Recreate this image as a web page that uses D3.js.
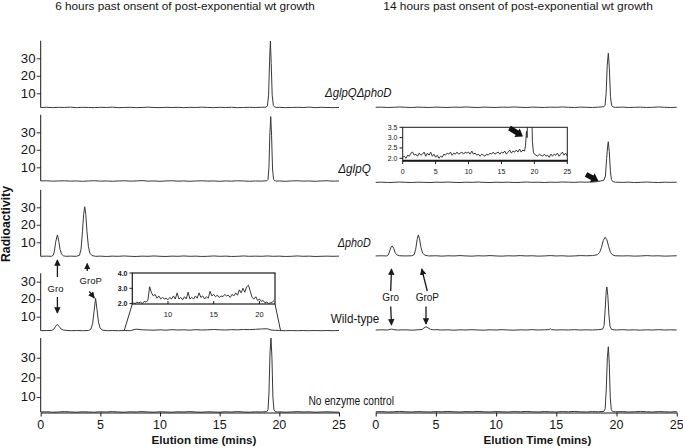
<!DOCTYPE html>
<html><head><meta charset="utf-8">
<script src="https://cdn.jsdelivr.net/npm/d3@7"></script>
<style>
body{margin:0;background:#fff}
svg{display:block}
text{font-family:"Liberation Sans",Arial,Helvetica,sans-serif;fill:#151515}
</style>
</head><body>
<svg id="c" width="683" height="448"></svg>
<script>
// ---------------- data ----------------
const xTicks = [0, 5, 10, 15, 20, 25];
const yTicks = [10, 20, 30];
const strains = ["ΔglpQΔphoD", "ΔglpQ", "ΔphoD", "Wild-type", "No enzyme control"];
const titles = ["6 hours past onsent of post-exponential wt growth", "14 hours past onsent of post-exponential wt growth"];
const xTitles = ["Elution time (mins)", "Elution Time (mins)"];
const yTitle = "Radioactivity";
const insetWTTicksX = [10, 15, 20];
const insetWTTicksY = [2.0, 3.0, 4.0];
const insetGlpQTicksX = [0, 5, 10, 15, 20, 25];
const insetGlpQTicksY = [2.0, 2.5, 3.0, 3.5];

// 6 h traces [time (min), radioactivity]
const L1 = [[0,1.9],[0.5,2.0],[1,1.8],[1.5,2.0],[2,1.9],[2.5,2.1],[3,1.8],[3.5,2.0],[4,1.9],[4.5,1.8],[5,2.0],[5.5,1.9],[6,2.1],[6.5,1.8],[7,1.9],[7.5,2.0],[8,1.8],[8.5,1.9],[9,2.1],[9.5,1.9],[10,1.8],[10.5,2.0],[11,1.9],[11.5,2.0],[12,1.8],[12.5,2.0],[13,1.9],[13.5,2.1],[14,1.9],[14.5,1.8],[15,2.0],[15.5,1.9],[16,2.0],[16.5,1.8],[17,1.9],[17.5,2.0],[18,1.9],[18.5,2.0],[18.9,2.1],[19.0,2.8],[19.1,9],[19.18,28],[19.25,39.8],[19.32,27],[19.4,9],[19.5,3],[19.6,2.2],[19.8,1.9],[20,2.0],[20.5,1.8],[21,1.9],[21.5,2.0],[22,1.9],[22.5,2.1],[23,1.8],[23.5,2.0],[24,1.9],[24.5,1.8],[25,1.9]];
const L2 = [[0,2.2],[0.5,2.3],[1,2.1],[1.5,2.2],[2,2.3],[2.5,2.1],[3,2.2],[3.5,2.0],[4,2.2],[4.5,2.3],[5,2.1],[5.5,2.2],[6,2.0],[6.5,2.2],[7,2.3],[7.5,2.1],[8,2.2],[8.5,2.4],[9,2.1],[9.5,2.2],[10,2.0],[10.5,2.2],[11,2.3],[11.5,2.1],[12,2.2],[12.5,2.0],[13,2.2],[13.5,2.3],[14,2.1],[14.5,2.2],[15,2.0],[15.5,2.2],[16,2.1],[16.5,2.3],[17,2.2],[17.5,2.0],[18,2.2],[18.5,2.1],[18.95,2.3],[19.05,3],[19.13,10],[19.21,30],[19.28,39],[19.35,28],[19.43,9],[19.52,3],[19.62,2.3],[19.8,2.1],[20,2.2],[20.5,2.0],[21,2.2],[21.5,2.3],[22,2.1],[22.5,2.2],[23,2.0],[23.5,2.2],[24,2.3],[24.5,2.1],[25,2.2]];
const L3 = [[0,2.0],[0.5,2.1],[0.9,2.0],[1.05,2.6],[1.15,5],[1.25,10],[1.4,14.2],[1.52,10.5],[1.62,6],[1.75,3.2],[1.9,2.3],[2.1,2.0],[2.5,2.1],[3.0,2.0],[3.25,2.6],[3.38,6],[3.5,16],[3.6,26],[3.69,30.3],[3.78,26],[3.88,16],[4.0,7.5],[4.12,3.8],[4.3,2.4],[4.6,2.0],[5,2.1],[5.5,1.9],[6,2.1],[6.5,2.0],[7,2.2],[7.5,2.0],[8,1.9],[8.5,2.1],[9,2.0],[9.5,2.2],[10,2.0],[10.5,1.9],[11,2.1],[11.5,2.0],[12,2.2],[12.5,2.0],[13,2.1],[13.5,1.9],[14,2.0],[14.5,2.2],[15,2.0],[15.5,2.1],[16,1.9],[16.5,2.0],[17,2.2],[17.5,2.0],[18,2.1],[18.5,2.0],[19,2.2],[19.5,2.0],[20,2.1],[20.5,1.9],[21,2.0],[21.5,2.2],[22,2.0],[22.5,2.1],[23,1.9],[23.5,2.0],[24,2.1],[24.5,2.0],[25,2.1]];
const L4 = [[0,2.0],[0.5,2.1],[0.9,2.1],[1.1,2.8],[1.25,4.5],[1.4,5.6],[1.55,4.4],[1.7,3.0],[1.9,2.4],[2.2,2.1],[2.6,2.0],[3,2.1],[3.5,2.0],[4.0,2.1],[4.2,2.8],[4.35,6],[4.47,13],[4.6,20.5],[4.72,14],[4.84,7],[4.98,3.4],[5.2,2.3],[5.6,2.0],[6,2.1],[6.5,2.0],[7,2.1],[7.5,2.0],[8,2.9],[8.5,2.5],[9,2.4],[9.5,2.3],[10,2.5],[10.5,2.3],[11,2.6],[11.5,2.4],[12,2.5],[12.5,2.3],[13,2.6],[13.5,2.4],[14,2.5],[14.5,2.7],[15,2.5],[15.5,2.4],[16,2.6],[16.5,2.5],[17,2.7],[17.5,2.6],[18,2.8],[18.5,3.0],[19,3.1],[19.3,2.4],[19.7,2.2],[20,2.1],[20.5,2.0],[21,2.1],[21.5,2.0],[22,2.1],[22.5,2.0],[23,2.1],[23.5,2.0],[24,2.1],[24.5,2.0],[25,2.1]];
const L5 = [[0,2.4],[0.5,2.5],[1,2.3],[1.5,2.4],[2,2.6],[2.5,2.4],[3,2.3],[3.5,2.5],[4,2.4],[4.5,2.3],[5,2.5],[5.5,2.4],[6,2.6],[6.5,2.4],[7,2.3],[7.5,2.5],[8,2.4],[8.5,2.6],[9,2.4],[9.5,2.3],[10,2.5],[10.5,2.4],[11,2.3],[11.5,2.5],[12,2.4],[12.5,2.6],[13,2.4],[13.5,2.3],[14,2.5],[14.5,2.4],[15,2.3],[15.5,2.5],[16,2.4],[16.5,2.6],[17,2.4],[17.5,2.3],[18,2.5],[18.5,2.4],[18.95,2.6],[19.05,3.5],[19.13,12],[19.22,33],[19.3,40],[19.38,30],[19.46,10],[19.55,3.5],[19.65,2.6],[19.85,2.4],[20,2.5],[20.5,2.3],[21,2.4],[21.5,2.6],[22,2.4],[22.5,2.5],[23,2.3],[23.5,2.4],[24,2.5],[24.5,2.4],[25,2.3]];

// 14 h traces
const R1 = [[0,2.0],[0.5,2.1],[1,1.9],[1.5,2.0],[2,2.2],[2.5,2.0],[3,1.9],[3.5,2.1],[4,2.0],[4.5,1.9],[5,2.1],[5.5,2.0],[6,1.9],[6.5,2.1],[7,2.0],[7.5,2.2],[8,2.0],[8.5,1.9],[9,2.1],[9.5,2.0],[10,1.9],[10.5,2.1],[11,2.0],[11.5,2.2],[12,2.0],[12.5,1.9],[13,2.1],[13.5,2.0],[14,1.9],[14.5,2.1],[15,2.0],[15.5,2.2],[16,2.0],[16.5,1.9],[17,2.1],[17.5,2.0],[18,1.9],[18.5,2.1],[18.95,2.3],[19.05,3.2],[19.14,10],[19.23,26],[19.32,32.9],[19.41,24],[19.5,8],[19.6,3],[19.72,2.2],[19.9,2.0],[20.5,2.1],[21,1.9],[21.5,2.0],[22,2.1],[22.5,1.9],[23,2.0],[23.5,2.2],[24,2.0],[24.5,1.9],[25,2.0]];
const R2 = [[0,1.4],[0.5,1.5],[1,1.3],[1.5,1.4],[2,1.6],[2.5,1.4],[3,1.3],[3.5,1.5],[4,1.4],[4.5,1.3],[5,1.5],[5.5,1.4],[6,1.6],[6.5,1.4],[7,1.3],[7.5,1.5],[8,1.4],[8.5,1.6],[9,1.4],[9.5,1.3],[10,1.5],[10.5,1.4],[11,1.5],[11.5,1.3],[12,1.4],[12.5,1.6],[13,1.4],[13.5,1.5],[14,1.3],[14.5,1.5],[15,1.4],[15.5,1.6],[16,1.5],[16.5,1.4],[17,1.6],[17.5,1.5],[18,1.6],[18.4,1.8],[18.7,2.2],[18.95,2.6],[19.08,5],[19.18,15],[19.26,22],[19.32,24.6],[19.4,19],[19.49,8],[19.58,3],[19.7,1.8],[19.9,1.5],[20.5,1.4],[21,1.5],[21.5,1.3],[22,1.4],[22.5,1.6],[23,1.4],[23.5,1.3],[24,1.5],[24.5,1.4],[25,1.5]];
const R3 = [[0,2.2],[0.5,2.3],[0.9,2.2],[1.05,2.8],[1.18,5.5],[1.3,7.6],[1.38,7.9],[1.5,6.5],[1.62,4],[1.78,2.7],[2.0,2.3],[2.5,2.2],[3.0,2.3],[3.2,3.0],[3.32,6],[3.44,11.5],[3.54,14.2],[3.64,12],[3.76,7],[3.9,3.8],[4.1,2.6],[4.4,2.2],[5,2.3],[5.5,2.1],[6,2.3],[6.5,2.2],[7,2.4],[7.5,2.2],[8,2.1],[8.5,2.3],[9,2.2],[9.5,2.4],[10,2.2],[10.5,2.1],[11,2.3],[11.5,2.2],[12,2.4],[12.5,2.2],[13,2.3],[13.5,2.1],[14,2.2],[14.5,2.4],[15,2.2],[15.5,2.3],[16,2.1],[16.5,2.2],[17,2.4],[17.5,2.3],[18,2.4],[18.4,2.9],[18.6,4.2],[18.75,7],[18.9,11],[19.05,12.9],[19.2,11.5],[19.35,7.5],[19.5,4.2],[19.68,2.8],[19.9,2.3],[20.5,2.2],[21,2.3],[21.5,2.1],[22,2.2],[22.5,2.4],[23,2.2],[23.5,2.3],[24,2.1],[24.5,2.2],[25,2.3]];
const R4 = [[0,2.4],[0.5,2.5],[1,2.4],[1.2,2.8],[1.33,2.9],[1.5,2.6],[1.8,2.4],[2.5,2.5],[3,2.3],[3.5,2.5],[3.85,2.7],[4.0,3.5],[4.18,4.3],[4.35,3.6],[4.55,2.8],[4.8,2.5],[5,2.6],[5.5,2.4],[6,2.5],[6.5,2.3],[7,2.5],[7.5,2.4],[8,2.6],[8.5,2.4],[9,2.3],[9.5,2.5],[10,2.4],[10.5,2.6],[11,2.4],[11.5,2.3],[12,2.5],[12.5,2.4],[13,2.6],[13.5,2.4],[14,2.5],[14.4,2.6],[14.5,3.2],[14.6,2.6],[15,2.4],[15.5,2.5],[16,2.4],[16.5,2.6],[17,2.4],[17.5,2.5],[18,2.4],[18.5,2.6],[18.85,2.9],[18.97,5],[19.06,14],[19.14,24],[19.2,27],[19.28,22],[19.37,11],[19.46,4.5],[19.58,2.8],[19.8,2.5],[20,2.4],[20.5,2.6],[21,2.4],[21.5,2.5],[22,2.3],[22.5,2.5],[23,2.4],[23.5,2.6],[24,2.4],[24.5,2.5],[25,2.4]];
const R5 = [[0,2.5],[0.5,2.6],[1,2.4],[1.5,2.5],[2,2.7],[2.5,2.5],[3,2.4],[3.5,2.6],[4,2.5],[4.5,2.4],[5,2.6],[5.5,2.5],[6,2.7],[6.5,2.5],[7,2.4],[7.5,2.6],[8,2.5],[8.5,2.7],[9,2.5],[9.5,2.4],[10,2.6],[10.5,2.5],[11,2.4],[11.5,2.6],[12,2.5],[12.5,2.7],[13,2.5],[13.5,2.4],[14,2.6],[14.5,2.5],[15,2.4],[15.5,2.6],[16,2.5],[16.5,2.7],[17,2.5],[17.5,2.4],[18,2.6],[18.5,2.5],[18.95,2.7],[19.06,4],[19.15,14],[19.24,30],[19.32,35.6],[19.4,27],[19.48,10],[19.57,3.5],[19.68,2.6],[19.9,2.5],[20.5,2.6],[21,2.4],[21.5,2.5],[22,2.7],[22.5,2.5],[23,2.4],[23.5,2.6],[24,2.5],[24.5,2.4],[25,2.6]];

// insets
const insetWT = [[6.2,2.05],[6.4,2.0],[6.6,2.1],[6.8,2.05],[7.0,2.1],[7.2,2.0],[7.4,2.15],[7.6,2.1],[7.8,2.2],[8.0,3.1],[8.2,2.7],[8.4,2.5],[8.6,2.6],[8.8,2.35],[9.0,2.5],[9.2,2.3],[9.4,2.4],[9.6,2.3],[9.8,2.35],[10.0,2.25],[10.2,2.4],[10.4,2.3],[10.6,2.5],[10.8,2.3],[11.0,2.7],[11.2,2.3],[11.4,2.4],[11.6,2.25],[11.8,2.45],[12.0,2.3],[12.2,2.75],[12.4,2.3],[12.6,2.4],[12.8,2.3],[13.0,2.5],[13.2,2.35],[13.4,2.7],[13.6,2.4],[13.8,2.5],[14.0,2.3],[14.2,2.45],[14.4,2.35],[14.6,2.8],[14.8,2.5],[15.0,2.6],[15.2,2.45],[15.4,2.55],[15.6,2.4],[15.8,2.5],[16.0,2.45],[16.2,2.6],[16.4,2.5],[16.6,2.55],[16.8,2.4],[17.0,2.6],[17.2,2.5],[17.4,2.7],[17.6,2.55],[17.8,2.9],[18.0,2.7],[18.2,3.0],[18.4,2.75],[18.6,3.1],[18.8,3.2],[19.0,2.8],[19.2,2.4],[19.4,2.3],[19.6,2.45],[19.8,2.2],[20.0,2.3],[20.2,2.15],[20.4,2.2],[20.6,2.05],[20.8,2.1],[21.0,2.0],[21.2,2.05],[21.4,2.1],[21.6,2.2]];
const insetGlpQ = [[0,2.05],[0.25,2.1],[0.5,2.0],[0.75,2.15],[1.0,2.1],[1.25,2.25],[1.5,2.3],[1.75,2.15],[2.0,2.2],[2.25,2.1],[2.5,2.25],[2.75,2.15],[3.0,2.2],[3.25,2.3],[3.5,2.1],[3.75,2.25],[4.0,2.15],[4.25,2.3],[4.5,2.1],[4.75,2.2],[5.0,2.05],[5.25,2.15],[5.5,2.0],[5.75,2.1],[6.0,2.05],[6.25,2.2],[6.5,2.15],[6.75,2.25],[7.0,2.2],[7.25,2.3],[7.5,2.15],[7.75,2.25],[8.0,2.2],[8.25,2.3],[8.5,2.2],[8.75,2.25],[9.0,2.3],[9.25,2.2],[9.5,2.3],[9.75,2.25],[10.0,2.3],[10.25,2.2],[10.5,2.35],[10.75,2.2],[11.0,2.25],[11.25,2.15],[11.5,2.2],[11.75,2.1],[12.0,2.2],[12.25,2.15],[12.5,2.1],[12.75,2.2],[13.0,2.15],[13.25,2.25],[13.5,2.2],[13.75,2.3],[14.0,2.2],[14.25,2.25],[14.5,2.3],[14.75,2.2],[15.0,2.3],[15.25,2.25],[15.5,2.35],[15.75,2.2],[16.0,2.3],[16.25,2.4],[16.5,2.25],[16.75,2.35],[17.0,2.3],[17.25,2.4],[17.5,2.3],[17.75,2.45],[18.0,2.3],[18.25,2.4],[18.5,2.35],[18.65,2.6],[18.8,3.3],[18.9,3.0],[19.0,4.5],[19.6,4.5],[19.7,2.8],[19.85,2.3],[20.0,2.2],[20.25,2.15],[20.5,2.1],[20.75,2.2],[21.0,2.15],[21.25,2.1],[21.5,2.2],[21.75,2.1],[22.0,2.15],[22.25,2.05],[22.5,2.2],[22.75,2.1],[23.0,2.2],[23.25,2.15],[23.5,2.25],[23.75,2.1],[24.0,2.2],[24.25,2.3],[24.5,2.15],[24.75,2.25],[25.0,2.1]];

// ---------------- drawing ----------------
const svg = d3.select("#c");
const ink = "#1a1a1a", lineCol = "#383838";
const xL = d3.scaleLinear().domain([0, 25]).range([40.7, 339]);
const xR = d3.scaleLinear().domain([0, 25]).range([375.7, 676.7]);
const panelY = [
  d3.scaleLinear().domain([0, 40]).range([110.8, 40.8]),
  d3.scaleLinear().domain([0, 40]).range([184.8, 114.8]),
  d3.scaleLinear().domain([0, 40]).range([259.8, 189.8]),
  d3.scaleLinear().domain([0, 40]).range([334.2, 264.2]),
  d3.scaleLinear().domain([0, 40]).range([416.7, 338.1])
];
const axisSpan = [[1.8, 40], [2.2, 40], [2.0, 40], [2.0, 34.8], [2.4, 40]];
const leftTraces = [L1, L2, L3, L4, L5];
const rightTraces = [R1, R2, R3, R4, R5];

function txt(g, x, y, s, o) {
  o = o || {};
  const t = g.append("text")
    .attr("x", 0).attr("y", 0)
    .attr("text-anchor", o.anchor || "middle")
    .style("font-size", (o.size || 11) + "px")
    .style("font-weight", o.weight || "normal")
    .style("font-style", o.style || "normal")
    .text(s);
  let sx = o.sx || 1;
  if (o.width) { const w = t.node().getComputedTextLength(); sx = o.width / w; }
  t.attr("transform", `translate(${x},${y})` + (o.rotate ? ` rotate(${o.rotate})` : "") + ` scale(${sx},1)`);
  return t;
}

// titles
txt(svg, 185, 10, titles[0], { size: 10.5, width: 260 });
txt(svg, 518, 10, titles[1], { size: 10.5, width: 270 });

const line = (xs, ys) => d3.line().x(d => xs(d[0])).y(d => ys(d[1]));

// left panels with y axes
panelY.forEach((ys, i) => {
  const g = svg.append("g");
  const ax = d3.axisLeft(ys).tickValues(yTicks).tickSize(4).tickFormat(d3.format("d"));
  const ag = g.append("g").attr("transform", "translate(40.7,0)").call(ax);
  ag.select(".domain").remove();
  ag.selectAll(".tick line").attr("stroke", ink).attr("stroke-width", 0.9);
  ag.selectAll(".tick text").remove();
  yTicks.forEach(v => txt(g, 35.5, ys(v) + 4.2, String(v), { size: 12, anchor: "end", sx: 1.1 }));
  g.append("line").attr("x1", 40.7).attr("x2", 40.7)
    .attr("y1", ys(axisSpan[i][0])).attr("y2", ys(axisSpan[i][1]))
    .attr("stroke", ink).attr("stroke-width", 1);
  g.append("path").datum(leftTraces[i]).attr("d", line(xL, ys))
    .attr("fill", "none").attr("stroke", lineCol).attr("stroke-width", 1);
  g.append("path").datum(rightTraces[i]).attr("d", line(xR, ys))
    .attr("fill", "none").attr("stroke", lineCol).attr("stroke-width", 1);
});

// strain labels
const labelPos = [[358.3, 96.5, 66.7], [354.5, 173, 32.4], [354.2, 247, 33], [355, 322.5, 48.6], [351.2, 404.5, 85.7]];
strains.forEach((s, i) => {
  txt(svg, labelPos[i][0], labelPos[i][1], s, { size: 12, style: i < 3 ? "italic" : "normal", width: labelPos[i][2] });
});

// x axes
[[xL, 0, 204, 105], [xR, 1, 537.5, 108]].forEach(([xs, k, cx, w]) => {
  const ag = svg.append("g").attr("transform", "translate(0,412.5)")
    .call(d3.axisBottom(xs).tickValues(xTicks).tickSize(4).tickSizeOuter(0));
  ag.select(".domain").attr("stroke", ink).attr("stroke-width", 1);
  ag.selectAll(".tick line").attr("stroke", ink).attr("stroke-width", 1);
  ag.selectAll(".tick text").remove();
  xTicks.forEach(v => txt(svg, xs(v), 428.5, String(v), { size: 12.5 }));
  txt(svg, cx, 444, xTitles[k], { size: 11.5, weight: "bold", width: w });
});

// y title
txt(svg, 10, 224, yTitle, { size: 12.5, weight: "bold", rotate: -90, width: 76 });

// ---------- inset (WT, 6 h) ----------
{
  const ix = d3.scaleLinear().domain([6.1, 21.7]).range([132.3, 275]);
  const iy = d3.scaleLinear().domain([2.0, 4.0]).range([303.6, 273]);
  const g = svg.append("g");
  g.append("line").attr("x1", 132.3).attr("y1", 304).attr("x2", xL(7.0)).attr("y2", 330.5).attr("stroke", ink).attr("stroke-width", 0.9);
  g.append("line").attr("x1", 275).attr("y1", 304).attr("x2", xL(20.1)).attr("y2", 330.5).attr("stroke", ink).attr("stroke-width", 0.9);
  g.append("rect").attr("x", 132.3).attr("y", 273).attr("width", 275 - 132.3).attr("height", 304 - 273)
    .attr("fill", "#fff").attr("stroke", ink).attr("stroke-width", 1.2);
  g.append("path").datum(insetWT).attr("d", line(ix, iy)).attr("fill", "none").attr("stroke", "#222").attr("stroke-width", 0.9);
  insetWTTicksX.forEach(v => {
    g.append("line").attr("x1", ix(v)).attr("x2", ix(v)).attr("y1", 304).attr("y2", 301).attr("stroke", ink);
    txt(g, ix(v), 316.5, String(v), { size: 7.5 });
  });
  insetWTTicksY.forEach(v => {
    g.append("line").attr("x1", 132.3).attr("x2", 129.5).attr("y1", iy(v)).attr("y2", iy(v)).attr("stroke", ink);
    txt(g, 127.5, iy(v) + 2.5, d3.format(".1f")(v), { size: 7, anchor: "end", weight: "bold" });
  });
}

// ---------- inset (ΔglpQ, 14 h) ----------
{
  const ix = d3.scaleLinear().domain([0, 25]).range([402.7, 567.3]);
  const iy = d3.scaleLinear().domain([2.0, 3.5]).range([158.3, 127.3]);
  const g = svg.append("g");
  svg.append("defs").append("clipPath").attr("id", "clipG")
    .append("rect").attr("x", 402.7).attr("y", 127.3).attr("width", 567.3 - 402.7).attr("height", 160.7 - 127.3);
  g.append("rect").attr("x", 402.7).attr("y", 127.3).attr("width", 567.3 - 402.7).attr("height", 160.7 - 127.3)
    .attr("fill", "#fff").attr("stroke", ink).attr("stroke-width", 1);
  g.append("path").datum(insetGlpQ).attr("d", line(ix, iy)).attr("clip-path", "url(#clipG)")
    .attr("fill", "none").attr("stroke", "#222").attr("stroke-width", 0.9);
  g.append("line").attr("x1", 402.7).attr("x2", 567.3).attr("y1", 160.7).attr("y2", 160.7).attr("stroke", ink).attr("stroke-width", 2);
  insetGlpQTicksX.forEach(v => {
    g.append("line").attr("x1", ix(v)).attr("x2", ix(v)).attr("y1", 160.7).attr("y2", 164).attr("stroke", ink);
    txt(g, ix(v), 174, String(v), { size: 7 });
  });
  insetGlpQTicksY.forEach(v => {
    g.append("line").attr("x1", 402.7).attr("x2", 399.5).attr("y1", iy(v)).attr("y2", iy(v)).attr("stroke", ink);
    txt(g, 397.5, iy(v) + 2.2, d3.format(".1f")(v), { size: 7, anchor: "end" });
  });
}

// ---------- arrows ----------
const defs = svg.append("defs");
defs.append("marker").attr("id", "ah").attr("viewBox", "0 0 10 10").attr("refX", 9).attr("refY", 5)
  .attr("markerWidth", 5).attr("markerHeight", 5).attr("orient", "auto-start-reverse")
  .append("path").attr("d", "M0,0 L10,5 L0,10 Z").attr("fill", ink);
function arrow(x1, y1, x2, y2) {
  svg.append("line").attr("x1", x1).attr("y1", y1).attr("x2", x2).attr("y2", y2)
    .attr("stroke", ink).attr("stroke-width", 1.3).attr("marker-end", "url(#ah)");
}
function blockArrow(x1, y1, x2, y2) {
  const dx = x2 - x1, dy = y2 - y1, L = Math.hypot(dx, dy), ux = dx / L, uy = dy / L, px = -uy, py = ux;
  const hl = 7, hw = 5, sw = 2.6;
  const bx = x2 - ux * hl, by = y2 - uy * hl;
  const pts = [[x1 + px * sw, y1 + py * sw], [bx + px * sw, by + py * sw], [bx + px * hw, by + py * hw], [x2, y2],
    [bx - px * hw, by - py * hw], [bx - px * sw, by - py * sw], [x1 - px * sw, y1 - py * sw]];
  svg.append("polygon").attr("points", pts.map(p => p.join(",")).join(" ")).attr("fill", "#111");
}
// left (6 h)
txt(svg, 55.5, 291.5, "Gro", { size: 9.5 });
txt(svg, 90.7, 283.5, "GroP", { size: 9.5 });
arrow(xL(1.4), 277, xL(1.4), 260);
arrow(xL(1.4), 297, xL(1.4), 313);
arrow(xL(3.9), 271, xL(3.9), 263.5);
arrow(89.3, 291.5, 94.3, 298);
// right (14 h)
txt(svg, 390.7, 301, "Gro", { size: 10 });
txt(svg, 427.3, 301, "GroP", { size: 10 });
arrow(390.7, 291, 391.5, 269);
arrow(427.3, 291, 421.7, 269);
arrow(390.7, 306.5, 391.5, 325);
arrow(426, 306.5, 426, 324);
blockArrow(586, 174.5, 598.5, 181);
blockArrow(509.5, 128, 523, 136.5);
</script>
</body></html>
